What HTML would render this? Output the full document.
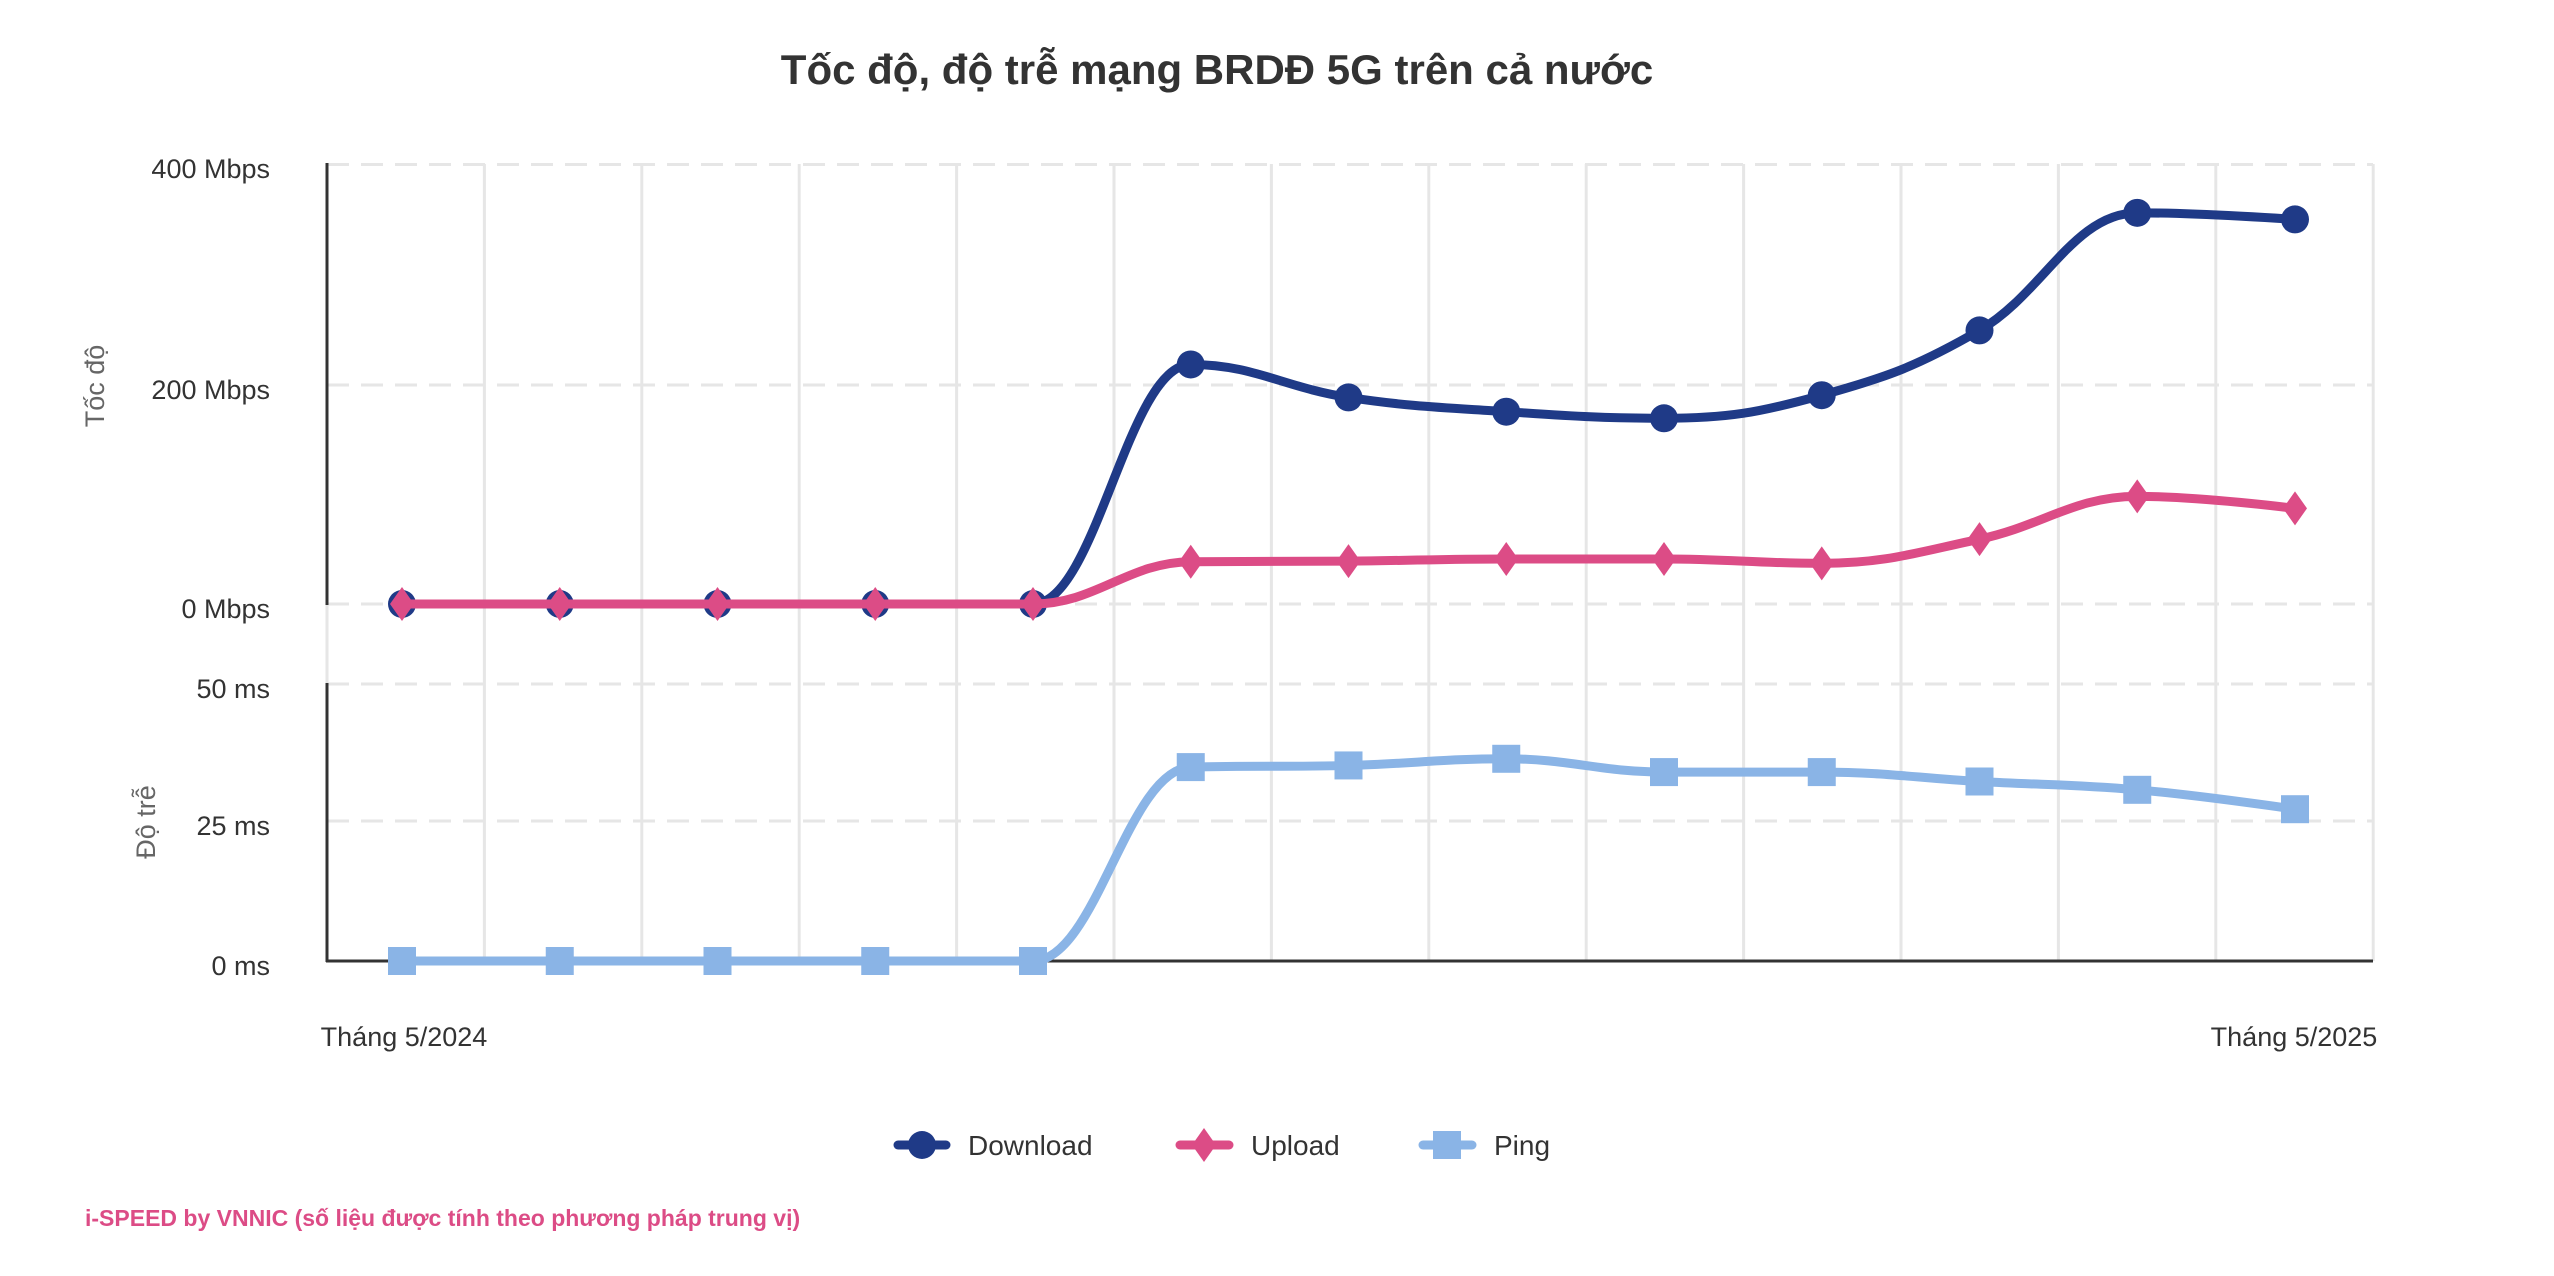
<!DOCTYPE html>
<html><head><meta charset="utf-8">
<style>
html,body{margin:0;padding:0;background:#fff;}
svg{display:block;font-family:"Liberation Sans","DejaVu Sans",sans-serif;}
</style></head>
<body>
<svg id="c" width="2554" height="1276" viewBox="0 0 2554 1276" xmlns="http://www.w3.org/2000/svg">
<rect width="2554" height="1276" fill="#fff"/>
<text x="1217" y="84" text-anchor="middle" font-size="42" font-weight="bold" fill="#333">Tốc độ, độ trễ mạng BRDĐ 5G trên cả nước</text>
<g id="grid" stroke="#e6e6e6" stroke-width="3"></g>
<g stroke="#e6e6e6" stroke-width="3" stroke-dasharray="22,12">
<line x1="327" y1="164.5" x2="2373" y2="164.5"/>
<line x1="327" y1="385" x2="2373" y2="385"/>
<line x1="327" y1="604" x2="2373" y2="604"/>
<line x1="327" y1="684" x2="2373" y2="684"/>
<line x1="327" y1="821" x2="2373" y2="821"/>
</g>
<g stroke="#333" stroke-width="3">
<line x1="327" y1="163" x2="327" y2="605"/>
<line x1="327" y1="683" x2="327" y2="962"/>
<line x1="326" y1="961" x2="2373" y2="961"/>
</g>
<g font-size="27" fill="#333" text-anchor="end">
<text x="270" y="178">400 Mbps</text>
<text x="270" y="399">200 Mbps</text>
<text x="270" y="618">0 Mbps</text>
<text x="270" y="698">50 ms</text>
<text x="270" y="835">25 ms</text>
<text x="270" y="975">0 ms</text>
</g>
<text transform="translate(104,386) rotate(-90)" text-anchor="middle" font-size="27" fill="#666">Tốc độ</text>
<text transform="translate(155,822) rotate(-90)" text-anchor="middle" font-size="27" fill="#666">Độ trễ</text>
<g font-size="27" fill="#333" text-anchor="middle">
<text x="404" y="1046">Tháng 5/2024</text>
<text x="2294" y="1046">Tháng 5/2025</text>
</g>
<g id="series"></g>
<g font-size="28" fill="#333">
<line x1="898" y1="1145" x2="946" y2="1145" stroke="#1f3a87" stroke-width="9" stroke-linecap="round"/>
<circle cx="922" cy="1145" r="14" fill="#1f3a87"/>
<text x="968" y="1155">Download</text>
<line x1="1180" y1="1145" x2="1229" y2="1145" stroke="#dc4c86" stroke-width="9" stroke-linecap="round"/>
<path d="M1204,1128 L1216,1145 L1204,1162 L1192,1145 Z" fill="#dc4c86"/>
<text x="1251" y="1155">Upload</text>
<line x1="1423" y1="1145" x2="1472" y2="1145" stroke="#8ab4e6" stroke-width="9" stroke-linecap="round"/>
<rect x="1433" y="1131" width="28" height="28" fill="#8ab4e6"/>
<text x="1494" y="1155">Ping</text>
</g>
<text x="85" y="1226" font-size="23" font-weight="bold" fill="#dc4c86">i-SPEED by VNNIC (số liệu được tính theo phương pháp trung vị)</text>
</svg>
<script>
var NS="http://www.w3.org/2000/svg";
var g=document.getElementById('grid');
for(var k=0;k<=13;k++){var x=327+k*157.4;var l=document.createElementNS(NS,'line');
l.setAttribute('x1',x);l.setAttribute('x2',x);l.setAttribute('y1',164);l.setAttribute('y2',961);g.appendChild(l);}
var xs=[];for(var i=0;i<13;i++)xs.push(402+i*157.75);
var dl=[0,0,0,0,0,218,188,175,169,190,249,356,350];
var ul=[0,0,0,0,0,38.5,39,41,41,37,59,98,87];
var pg=[0,0,0,0,0,35,35.3,36.5,34.1,34.1,32.4,30.9,27.4];
function ys(v){return 604-v*1.0988;}
function yp(v){return 961-v*5.54;}
function spline(P){
 var s=1.5,d=2.5,d0="M"+P[0][0]+","+P[0][1];
 var L=[],R=[];
 for(var i=0;i<P.length;i++){
  var x=P[i][0],y=P[i][1];
  if(i==0||i==P.length-1){L.push([x,y]);R.push([x,y]);continue;}
  var lx=P[i-1][0],ly=P[i-1][1],nx=P[i+1][0],ny=P[i+1][1];
  var lcx=(s*x+lx)/d,lcy=(s*y+ly)/d,rcx=(s*x+nx)/d,rcy=(s*y+ny)/d;
  if(rcx!==lcx){var c=((rcy-lcy)*(rcx-x))/(rcx-lcx)+y-rcy;lcy+=c;rcy+=c;}
  if(lcy>ly&&lcy>y){lcy=Math.max(ly,y);rcy=2*y-lcy;}else if(lcy<ly&&lcy<y){lcy=Math.min(ly,y);rcy=2*y-lcy;}
  if(rcy>ny&&rcy>y){rcy=Math.max(ny,y);lcy=2*y-rcy;}else if(rcy<ny&&rcy<y){rcy=Math.min(ny,y);lcy=2*y-rcy;}
  L.push([lcx,lcy]);R.push([rcx,rcy]);
 }
 for(var i=1;i<P.length;i++){d0+=" C"+R[i-1][0]+","+R[i-1][1]+" "+L[i][0]+","+L[i][1]+" "+P[i][0]+","+P[i][1];}
 return d0;
}
var S=document.getElementById('series');
function add(vals,fy,col,mk){
 var P=vals.map(function(v,i){return [xs[i],fy(v)];});
 var p=document.createElementNS(NS,'path');p.setAttribute('d',spline(P));p.setAttribute('fill','none');
 p.setAttribute('stroke',col);p.setAttribute('stroke-width','9');p.setAttribute('stroke-linecap','round');p.setAttribute('stroke-linejoin','round');S.appendChild(p);
 P.forEach(function(q){var e;
  if(mk=='c'){e=document.createElementNS(NS,'circle');e.setAttribute('cx',q[0]);e.setAttribute('cy',q[1]);e.setAttribute('r',14);}
  else if(mk=='d'){e=document.createElementNS(NS,'path');e.setAttribute('d','M'+q[0]+','+(q[1]-17)+' L'+(q[0]+12)+','+q[1]+' L'+q[0]+','+(q[1]+17)+' L'+(q[0]-12)+','+q[1]+' Z');}
  else{e=document.createElementNS(NS,'rect');e.setAttribute('x',q[0]-14);e.setAttribute('y',q[1]-14);e.setAttribute('width',28);e.setAttribute('height',28);}
  e.setAttribute('fill',col);S.appendChild(e);});
}
add(dl,ys,'#1f3a87','c');
add(ul,ys,'#dc4c86','d');
add(pg,yp,'#8ab4e6','s');
</script>
</body></html>
